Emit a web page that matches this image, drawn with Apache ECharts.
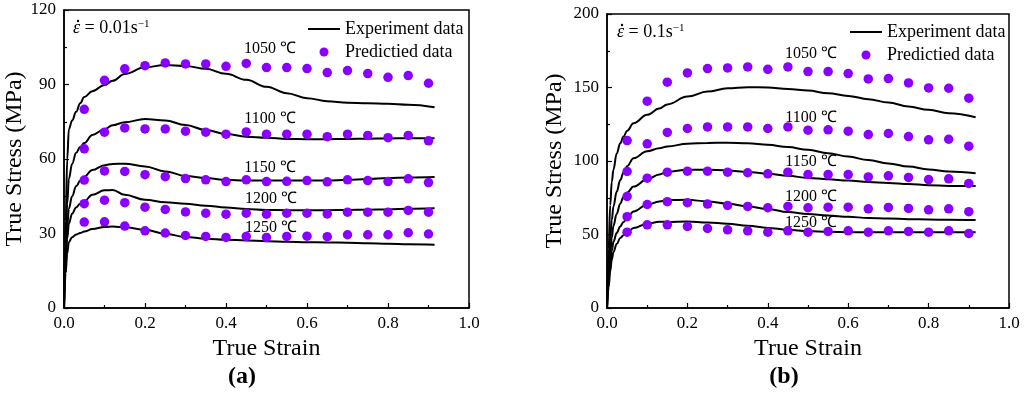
<!DOCTYPE html>
<html><head><meta charset="utf-8">
<script src="https://cdn.jsdelivr.net/npm/echarts@6/dist/echarts.min.js"></script>
<style>html,body{margin:0;padding:0;background:#fff}#c{width:1024px;height:393px}</style>
</head><body><div id="c"></div>
<script>
// ---------- data (a) strain rate 0.01 s^-1 ----------
const predStrain = [0.05,0.1,0.15,0.2,0.25,0.3,0.35,0.4,0.45,0.5,0.55,0.6,0.65,0.7,0.75,0.8,0.85,0.9];
const temps = ['1050 ℃','1100 ℃','1150 ℃','1200 ℃','1250 ℃'];

const expStrainA = [0,0.004,0.008,0.012,0.02,0.03,0.04,0.05,0.07,0.1,0.12,0.15,0.2,0.25,0.3,0.35,0.4,0.45,0.5,0.55,0.6,0.65,0.7,0.75,0.8,0.85,0.915];
const expA1050 = [0,35,60,72,75.5,79,82.5,85,87.3,89.8,91.5,94.2,96.9,97.9,97.5,96.3,94.3,91.9,89.1,86.5,84.5,83.3,82.7,82.4,82.2,81.8,80.8];
const expA1100 = [0,25,42,52,58,62.5,64.8,66.4,69.7,72,73.6,74.8,76.1,75.5,73.7,71.7,70.1,69.0,68.6,68.1,68.0,68.0,68.1,68.2,68.3,68.4,68.4];
const expA1150 = [0,20,33,40,45,49,51.2,52.9,55.6,57.5,58.0,58.1,57.0,55.0,53.2,52.3,51.6,51.3,51.3,51.3,51.3,51.3,51.6,51.9,52.3,52.6,52.8];
const expA1200 = [0,17,28,34,38,40.5,42,43,45.6,47.4,47.5,45.6,43.6,42.6,42.0,41.2,40.5,39.9,39.5,39.4,39.4,39.4,39.5,39.6,39.7,40.0,40.2];
const expA1250 = [0,14,22,26.5,28.5,29.6,30.2,30.8,31.8,32.6,32.8,32.5,31.5,29.9,28.6,27.9,27.5,27.2,26.9,26.7,26.5,26.4,26.3,26.1,25.9,25.7,25.5];

const predA1050 = [80.0,91.7,96.3,97.6,98.7,98.3,98.3,97.3,98.5,96.8,96.8,96.4,94.8,95.6,94.4,92.9,93.6,90.5];
const predA1100 = [64.1,70.8,72.5,72.1,72.1,71.2,70.8,70.0,70.9,70.0,70.0,70.0,69.0,70.0,69.5,68.6,69.5,67.3];
const predA1150 = [51.5,55.2,55.0,53.7,52.9,52.1,51.6,50.9,51.6,50.9,51.0,51.3,50.8,51.6,51.3,50.9,52.0,50.5];
const predA1200 = [42.0,43.4,42.4,40.6,39.7,38.7,38.2,37.8,38.2,37.8,38.2,38.2,37.9,38.6,38.6,38.6,39.3,38.6];
const predA1250 = [34.6,34.7,33.0,31.1,30.2,29.2,28.8,28.4,28.8,28.4,28.8,28.9,28.7,29.5,29.5,29.5,30.3,29.8];

// ---------- data (b) strain rate 0.1 s^-1 ----------
const expStrainB = [0,0.004,0.008,0.012,0.016,0.024,0.033,0.041,0.05,0.066,0.1,0.13,0.15,0.2,0.25,0.3,0.35,0.4,0.45,0.5,0.55,0.6,0.65,0.7,0.75,0.8,0.85,0.917];
const expB1050 = [0,40,70,86,94,105,112,116.6,120.5,125.7,131.4,135.7,138.5,143.8,147.2,149.5,150.2,150,149,147.9,146.1,144.3,142,139.8,137,134.8,132.5,129.8];
const expB1100 = [0,28,48,60,69,79,87,92,96.5,101.9,106.6,108.7,109.9,111.7,112.3,112.4,112.0,111,109.5,107.6,105.3,103,100.6,98.3,96.2,94.3,92.8,91.6];
const expB1150 = [0,22,37,48,56,64,71,75.5,78.5,82.6,87.6,90.8,92.6,94,94,93.6,92.6,91.3,89.9,88.5,87.6,86.7,85.7,85.1,84.4,83.5,83.0,83.0];
const expB1200 = [0,18,30,39,45,51,55.5,58.5,61.3,65.7,70.3,72.5,73.4,73.6,72.5,70.9,69.1,67.4,65.3,64.0,62.9,62.0,61.3,60.9,60.4,60.2,60.0,59.8];
const expB1250 = [0,14,25,33,38,43.5,47.6,49.5,51,54.4,57.3,58.7,58.5,58.9,58.2,57.3,55.9,54.5,53.2,52.3,51.8,51.6,51.6,51.6,51.6,51.6,51.6,51.6];

const predB1050 = [113.9,140.7,153.6,159.9,162.9,163.3,164.0,162.4,164.0,160.8,160.8,159.5,155.8,156.1,153.1,149.7,149.5,142.7];
const predB1100 = [92.9,111.7,119.4,122.1,123.2,123.2,123.2,122.1,123.2,121.0,121.2,120.3,118.0,118.7,116.6,114.4,114.8,110.1];
const predB1150 = [75.9,88.3,92.4,93.1,93.1,92.4,92.0,91.3,92.4,90.8,90.8,90.8,89.2,89.9,88.8,87.4,87.9,84.7];
const predB1200 = [62.1,70.4,72.3,71.6,70.7,69.8,69.1,68.2,69.1,68.2,68.6,68.6,67.5,68.4,67.7,66.8,67.5,65.5];
const predB1250 = [51.6,56.6,56.6,55.5,54.1,53.2,52.5,51.6,52.5,51.6,52.1,52.5,51.6,52.5,52.1,51.6,52.5,50.7];

// ---------- chart ----------
const FONT = '"Liberation Serif","Times New Roman",serif';
const DOT = '#8a00ff';
const zip = (xs, ys) => xs.map((x, i) => [x, ys[i]]);

const expA = [expA1050, expA1100, expA1150, expA1200, expA1250];
const predA = [predA1050, predA1100, predA1150, predA1200, predA1250];
const expB = [expB1050, expB1100, expB1150, expB1200, expB1250];
const predB = [predB1050, predB1100, predB1150, predB1200, predB1250];

const series = [];
function addSeries(expStrain, exps, preds, idx) {
  exps.forEach(ys => series.push({
    name: 'Experiment data', type: 'line', xAxisIndex: idx, yAxisIndex: idx,
    data: zip(expStrain, ys), symbol: 'none', smooth: 0.4, smoothMonotone: 'x',
    lineStyle: { color: '#000', width: 2 }, itemStyle: { color: '#000' }, z: 2
  }));
  preds.forEach(ys => series.push({
    name: 'Predictied data', type: 'scatter', xAxisIndex: idx, yAxisIndex: idx,
    data: zip(predStrain, ys), symbol: 'circle', symbolSize: 9.5,
    itemStyle: { color: DOT, opacity: 1 }, z: 3
  }));
}
addSeries(expStrainA, expA, predA, 0);
addSeries(expStrainB, expB, predB, 1);

function xAxis(gi) {
  return {
    gridIndex: gi, type: 'value', min: 0, max: 1, interval: 0.2,
    name: 'True Strain', nameLocation: 'middle', nameGap: 25,
    nameTextStyle: { fontFamily: FONT, fontSize: 24, color: '#000' },
    axisLine: { show: true, lineStyle: { color: '#000', width: 1.5 } },
    axisTick: { show: true, inside: true, length: 5, lineStyle: { color: '#000', width: 1.2 } },
    minorTick: { show: true, splitNumber: 2, length: 3, lineStyle: { color: '#000', width: 1.2 } },
    axisLabel: { fontFamily: FONT, fontSize: 17, color: '#000', margin: 7, formatter: v => v.toFixed(1) },
    splitLine: { show: false }
  };
}
function yAxis(gi, max, interval, gap) {
  return {
    gridIndex: gi, type: 'value', min: 0, max: max, interval: interval,
    name: 'True Stress (MPa)', nameLocation: 'middle', nameGap: gap, nameRotate: 90,
    nameTextStyle: { fontFamily: FONT, fontSize: 24, color: '#000' },
    axisLine: { show: true, lineStyle: { color: '#000', width: 1.5 } },
    axisTick: { show: true, inside: true, length: 5, lineStyle: { color: '#000', width: 1.2 } },
    minorTick: { show: true, splitNumber: 2, length: 3, lineStyle: { color: '#000', width: 1.2 } },
    axisLabel: { fontFamily: FONT, fontSize: 17, color: '#000', margin: 8 },
    splitLine: { show: false }
  };
}
function legend(left, top) {
  return {
    orient: 'vertical', left: left, top: top, itemWidth: 32, itemHeight: 9, itemGap: 5,
    symbolKeepAspect: true, selectedMode: false,
    data: [
      { name: 'Experiment data', icon: 'path://M0,0L32,0L32,2L0,2Z', itemStyle: { color: '#000', borderWidth: 0 } },
      { name: 'Predictied data', icon: 'circle', itemStyle: { color: DOT, borderWidth: 0 } }
    ],
    textStyle: { fontFamily: FONT, fontSize: 18, color: '#000' }
  };
}
function label(x, y, text) {
  return { type: 'text', x: x, y: y, silent: true,
    style: { text: text, font: '16px ' + FONT, fill: '#000', align: 'center', verticalAlign: 'middle' } };
}
const tempPosA = [[270, 49], [270, 119], [270, 168], [271, 199], [271, 228]];
const tempPosB = [[811, 54], [811, 118], [811, 162], [811, 197], [811, 223]];
const graphics = [];
temps.forEach((t, i) => graphics.push(label(tempPosA[i][0], tempPosA[i][1], t)));
temps.forEach((t, i) => graphics.push(label(tempPosB[i][0], tempPosB[i][1], t)));
function rateLabel(x, y, val) {
  return [
    { type: 'text', x: x, y: y, silent: true,
      style: { text: '{e|ε} = ' + val + 's{s|−1}', font: '18px ' + FONT, fill: '#000', verticalAlign: 'middle',
        rich: { e: { fontFamily: FONT, fontSize: 18, fontStyle: 'italic', fill: '#000' },
                s: { fontFamily: FONT, fontSize: 11, verticalAlign: 'top', fill: '#000' } } } },
    { type: 'circle', silent: true, shape: { cx: x + 5, cy: y - 7, r: 1.2 }, style: { fill: '#000' } }
  ];
}
graphics.push(...rateLabel(73, 28, '0.01'));
graphics.push(...rateLabel(617, 32, '0.1'));
graphics.push({ type: 'text', x: 242, y: 377, silent: true,
  style: { text: '(a)', font: 'bold 24px ' + FONT, fill: '#000', align: 'center', verticalAlign: 'middle' } });
graphics.push({ type: 'text', x: 784, y: 377, silent: true,
  style: { text: '(b)', font: 'bold 24px ' + FONT, fill: '#000', align: 'center', verticalAlign: 'middle' } });

const chart = echarts.init(document.getElementById('c'), null, { renderer: 'canvas' });
chart.setOption({
  animation: false,
  backgroundColor: '#fff',
  grid: [
    { left: 64, top: 10, width: 405, height: 298, show: true, borderColor: '#000', borderWidth: 1.5, backgroundColor: 'transparent' },
    { left: 607, top: 14, width: 402, height: 294, show: true, borderColor: '#000', borderWidth: 1.5, backgroundColor: 'transparent' }
  ],
  xAxis: [xAxis(0), xAxis(1)],
  yAxis: [yAxis(0, 120, 30, 36), yAxis(1, 200, 50, 40)],
  legend: [legend(303, 15), legend(845, 18)],
  series: series,
  graphic: graphics
});
</script></body></html>
